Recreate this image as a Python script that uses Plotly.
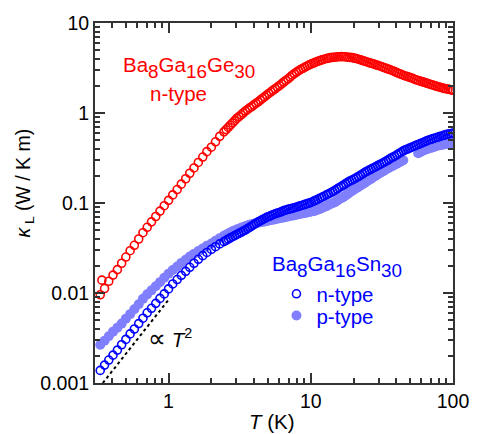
import plotly.graph_objects as go

# Temperature grid (K) shared by all three data sets
T_K = [0.331, 0.355, 0.380, 0.407, 0.437, 0.468, 0.501, 0.537, 0.575, 0.617,
       0.661, 0.708, 0.759, 0.813, 0.871, 0.933, 1.00, 1.07, 1.15, 1.23,
       1.32, 1.41, 1.51, 1.62, 1.74, 1.86, 2.00, 2.14, 2.29, 2.45,
       2.63, 2.82, 3.02, 3.24, 3.47, 3.72, 3.98, 4.27, 4.57, 4.90,
       5.25, 5.62, 6.03, 6.46, 6.92, 7.41, 7.94, 8.51, 9.12, 9.77,
       10.5, 11.2, 12.0, 12.9, 13.8, 14.8, 15.8, 17.0, 18.2, 19.5,
       20.9, 22.4, 24.0, 25.7, 27.5, 29.5, 31.6, 33.9, 36.3, 38.9,
       41.7, 44.7, 47.9, 51.3, 55.0, 58.9, 63.1, 67.6, 72.4, 77.6,
       83.2, 89.1, 95.5, 100.0]

# additional (denser) temperatures measured above ~2.5 K
T_K_hi = [2.54, 2.72, 2.92, 3.13, 3.35, 3.59, 3.85, 4.12, 4.42, 4.73,
          5.07, 5.43, 5.82, 6.24, 6.68, 7.16, 7.67, 8.22, 8.81, 9.44,
          10.1, 10.8, 11.6, 12.4, 13.3, 14.3, 15.3, 16.4, 17.6, 18.8,
          20.2, 21.6, 23.2, 24.8, 26.6, 28.5, 30.5, 32.7, 35.1, 37.6,
          40.3, 43.2, 46.2, 49.5, 53.1, 56.9, 61.0, 65.3, 70.0, 75.0,
          80.4, 86.1, 92.3, 98.9]

# Ba8Ga16Ge30 n-type (W/K m)
kappa_Ge_n = [0.00955, 0.0112, 0.0135, 0.0158, 0.0182, 0.0214, 0.0251, 0.0295, 0.0339, 0.0398,
              0.0468, 0.0537, 0.0617, 0.0708, 0.0813, 0.0933, 0.107, 0.123, 0.141, 0.162,
              0.186, 0.214, 0.245, 0.282, 0.324, 0.372, 0.417, 0.479, 0.550, 0.617,
              0.692, 0.776, 0.871, 0.955, 1.05, 1.14, 1.23, 1.33, 1.45, 1.58,
              1.72, 1.86, 2.02, 2.21, 2.40, 2.63, 2.85, 3.05, 3.24, 3.43,
              3.59, 3.76, 3.89, 4.03, 4.12, 4.17, 4.22, 4.22, 4.17, 4.12,
              4.03, 3.89, 3.76, 3.63, 3.51, 3.39, 3.27, 3.13, 3.02, 2.88,
              2.75, 2.63, 2.54, 2.45, 2.34, 2.26, 2.19, 2.11, 2.04, 1.97,
              1.91, 1.86, 1.82, 1.80]
kappa_Ge_n_hi = [0.654, 0.733, 0.822, 0.912, 1.00, 1.09, 1.18, 1.28, 1.39, 1.51,
                 1.65, 1.79, 1.94, 2.11, 2.30, 2.51, 2.74, 2.95, 3.14, 3.33,
                 3.51, 3.67, 3.82, 3.96, 4.07, 4.15, 4.20, 4.23, 4.20, 4.15,
                 4.07, 3.96, 3.82, 3.69, 3.57, 3.45, 3.33, 3.20, 3.07, 2.95,
                 2.81, 2.69, 2.58, 2.49, 2.39, 2.30, 2.22, 2.15, 2.07, 2.00,
                 1.94, 1.88, 1.84, 1.80]
Ge_outlier_T = [0.34]
Ge_outlier_kappa = [0.0139]

# Ba8Ga16Sn30 n-type
kappa_Sn_n = [0.00138, 0.00158, 0.00180, 0.00204, 0.00232, 0.00266, 0.00305, 0.00351, 0.00398, 0.00457,
              0.00525, 0.00603, 0.00676, 0.00767, 0.00871, 0.00977, 0.0111, 0.0126, 0.0141, 0.0157,
              0.0174, 0.0193, 0.0214, 0.0237, 0.0260, 0.0282, 0.0305, 0.0327, 0.0351, 0.0372,
              0.0398, 0.0422, 0.0447, 0.0473, 0.0501, 0.0537, 0.0575, 0.0617, 0.0653, 0.0692,
              0.0724, 0.0759, 0.0785, 0.0822, 0.0851, 0.0871, 0.0902, 0.0933, 0.0966, 0.100,
              0.105, 0.110, 0.116, 0.123, 0.130, 0.138, 0.148, 0.158, 0.170, 0.180,
              0.191, 0.204, 0.219, 0.232, 0.245, 0.260, 0.275, 0.292, 0.313, 0.331,
              0.355, 0.380, 0.398, 0.417, 0.437, 0.457, 0.479, 0.501, 0.519, 0.537,
              0.556, 0.575, 0.589, 0.596]
kappa_Sn_n_hi = [0.0385, 0.0410, 0.0434, 0.0460, 0.0487, 0.0519, 0.0556, 0.0596, 0.0635, 0.0672,
                 0.0708, 0.0741, 0.0772, 0.0803, 0.0836, 0.0861, 0.0886, 0.0917, 0.0949, 0.0983,
                 0.102, 0.107, 0.113, 0.119, 0.126, 0.134, 0.143, 0.153, 0.164, 0.175,
                 0.185, 0.197, 0.211, 0.225, 0.238, 0.252, 0.267, 0.283, 0.302, 0.322,
                 0.343, 0.367, 0.389, 0.407, 0.427, 0.447, 0.468, 0.490, 0.510, 0.528,
                 0.546, 0.565, 0.582, 0.595]

# Ba8Ga16Sn30 p-type
kappa_Sn_p = [0.00266, 0.00295, 0.00331, 0.00372, 0.00412, 0.00457, 0.00519, 0.00582, 0.00661, 0.00750,
              0.00861, 0.00966, 0.0107, 0.0119, 0.0132, 0.0148, 0.0164, 0.0180, 0.0197, 0.0216,
              0.0234, 0.0254, 0.0272, 0.0292, 0.0313, 0.0335, 0.0355, 0.0380, 0.0407, 0.0432,
              0.0457, 0.0484, 0.0507, 0.0531, 0.0550, 0.0575, 0.0589, 0.0603, 0.0617, 0.0631,
              0.0646, 0.0661, 0.0676, 0.0692, 0.0708, 0.0724, 0.0741, 0.0759, 0.0776, 0.0794,
              0.0813, 0.0841, 0.0881, 0.0923, 0.0977, 0.102, 0.110, 0.117, 0.126, 0.136,
              0.146, 0.157, 0.168, 0.180, 0.193, 0.207, 0.221, 0.237, 0.251, 0.266,
              0.282, 0.299, None, None, None, 0.367, 0.389, 0.403, 0.417, 0.432,
              0.442, 0.452, 0.462, 0.468]
kappa_Sn_p_hi = [0.0444, 0.0470, 0.0495, 0.0519, 0.0540, 0.0562, 0.0582, 0.0596, 0.0610, 0.0624,
                 0.0638, 0.0653, 0.0668, 0.0684, 0.0700, 0.0716, 0.0732, 0.0750, 0.0767, 0.0785,
                 0.0803, 0.0827, 0.0861, 0.0902, 0.0950, 0.0998, 0.106, 0.113, 0.121, 0.131,
                 0.141, 0.151, 0.162, 0.174, 0.186, 0.200, 0.214, 0.229, 0.244, 0.258,
                 0.274, 0.290, None, None, None, 0.357, 0.378, 0.396, 0.410, 0.424,
                 0.437, 0.447, 0.457, 0.466]

# T^2 guide line
guide_T = [0.345, 1.0]
guide_kappa = [0.001, 0.0084]

x_tickvals = [1, 10, 100]
x_ticktext = ["1", "10", "100"]
y_tickvals = [0.001, 0.01, 0.1, 1, 10]
y_ticktext = ["0.001", "0.01", "0.1", "1", "10"]

RED = "#ff0000"
BLUE = "#0000ff"
LBLUE = "#8080ff"
FONT = "Liberation Sans, Arial, sans-serif"
TXT = 20.5

W, H = 481, 434
L, R, TOP, B = 95, 21, 19, 51
PW, PH = W - L - R, H - TOP - B


def px(xp):
    return (xp - L) / PW


def py(yp):
    return (H - B - yp) / PH


def formula(parts):
    # letters at TXT px, subscripts at 70% of the 27px base (about 19px)
    out = ""
    for letters, digits in parts:
        out += "<span style='font-size:%spx'>%s</span><sub>%s</sub>" % (TXT, letters, digits)
    return out


fig = go.Figure()

fig.add_trace(go.Scatter(x=T_K + T_K_hi, y=kappa_Sn_p + kappa_Sn_p_hi, mode="markers",
                         name="p-type", legend="legend2",
                         marker=dict(symbol="circle", size=10, color=LBLUE, line=dict(width=0))))
fig.add_trace(go.Scatter(x=T_K + T_K_hi, y=kappa_Sn_n + kappa_Sn_n_hi, mode="markers",
                         name="n-type", legend="legend",
                         marker=dict(symbol="circle-open", size=8, color=BLUE, line=dict(width=1.6, color=BLUE))))
fig.add_trace(go.Scatter(x=T_K + T_K_hi, y=kappa_Ge_n + kappa_Ge_n_hi, mode="markers", showlegend=False,
                         marker=dict(symbol="circle-open", size=8, color=RED, line=dict(width=1.6, color=RED))))
fig.add_trace(go.Scatter(x=Ge_outlier_T, y=Ge_outlier_kappa, mode="markers", showlegend=False,
                         marker=dict(symbol="circle-open", size=8, color=RED, line=dict(width=1.6, color=RED))))
fig.add_trace(go.Scatter(x=guide_T, y=guide_kappa, mode="lines", showlegend=False,
                         line=dict(color="black", width=2, dash="dot")))

minor_x = [v * d for d in (0.1, 1, 10) for v in range(2, 10) if v * d > 0.305]
minor_y = [v * d for d in (0.001, 0.01, 0.1, 1) for v in range(2, 10)]

axis_common = dict(showline=True, linewidth=2, linecolor="#333333", mirror="allticks",
                   ticks="inside", ticklen=10, tickwidth=1.5, tickcolor="#333333",
                   showgrid=False, zeroline=False,
                   tickfont=dict(family=FONT, size=19.5, color="black"))

fig.update_xaxes(type="log", range=[-0.517, 2.0], tickvals=x_tickvals, ticktext=x_ticktext,
                 minor=dict(tickvals=minor_x, ticks="inside", ticklen=5, tickwidth=1.5,
                            tickcolor="#333333", showgrid=False),
                 **axis_common)
fig.update_yaxes(type="log", range=[-3, 1], tickvals=y_tickvals, ticktext=y_ticktext,
                 minor=dict(tickvals=minor_y, ticks="inside", ticklen=5, tickwidth=1.5,
                            tickcolor="#333333", showgrid=False),
                 **axis_common)

annotations = [
    dict(text="<i>κ</i><sub> L</sub> (W / K m)", x=px(23), y=py(181), textangle=-90,
         font=dict(family=FONT, size=19.5, color="black")),
    dict(text="<i>T</i> (K)", x=px(275), y=py(422),
         font=dict(family=FONT, size=TXT, color="black")),
    dict(text=formula([("Ba", "8"), ("Ga", "16"), ("Ge", "30")]), x=px(121), y=py(64),
         xanchor="left", font=dict(family=FONT, size=27, color=RED)),
    dict(text="n-type", x=px(180), y=py(90),
         font=dict(family=FONT, size=TXT, color=RED)),
    dict(text=formula([("Ba", "8"), ("Ga", "16"), ("Sn", "30")]), x=px(273), y=py(265),
         xanchor="left", font=dict(family=FONT, size=27, color=BLUE)),
    dict(text="<span style='font-size:25px'>∝</span> <i>T</i><sup>2</sup>", x=px(171), y=py(338),
         font=dict(family=FONT, size=TXT, color="black")),
]
for a in annotations:
    a.update(xref="paper", yref="paper", showarrow=False, yanchor=a.get("yanchor", "middle"),
             xanchor=a.get("xanchor", "center"))

leg_common = dict(xanchor="left", yanchor="middle", bgcolor="rgba(0,0,0,0)", borderwidth=0,
                  itemwidth=30, font=dict(family=FONT, size=TXT, color=BLUE))

fig.update_layout(
    width=W, height=H, margin=dict(l=L, r=R, t=TOP, b=B),
    paper_bgcolor="white", plot_bgcolor="white",
    font=dict(family=FONT, size=19.5, color="black"),
    annotations=annotations,
    showlegend=True,
    legend=dict(x=px(280), y=py(293), **leg_common),
    legend2=dict(x=px(280), y=py(315), **leg_common),
)

fig.write_html("out.html", config={"displayModeBar": False},
               post_script="document.body.style.margin='0px';document.body.style.padding='0px';")
